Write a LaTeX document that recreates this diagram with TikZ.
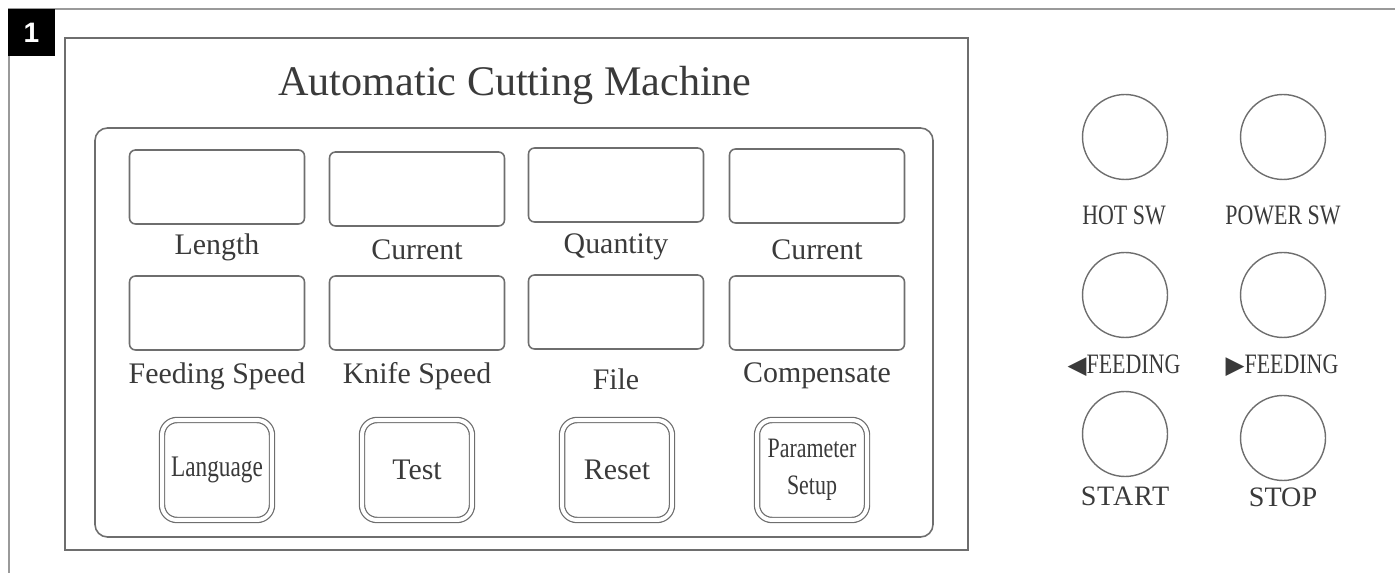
\documentclass[tikz,border=0pt]{standalone}
\usepackage{fontspec}
\setmainfont{Liberation Serif}
\newfontfamily\narrowserif[FakeStretch=0.78]{Liberation Serif}
\newfontfamily\symfont{DejaVu Sans}
\newfontfamily\tagfont{Liberation Sans}
\definecolor{ink}{HTML}{3A3A3A}
\definecolor{edge}{HTML}{6E6E6E}
\definecolor{frame}{HTML}{9A9A9A}
\tikzset{
  display/.style={draw=edge, line width=0.9pt, rounded corners=0.12cm,
    minimum width=3.5cm, minimum height=1.48cm},
  dlabel/.style={text=ink, font=\fontsize{17}{20}\selectfont},
  keybtn/.style={draw=edge, line width=0.7pt, double=white, double distance=0.08cm,
    rounded corners=0.3cm, minimum width=2.2cm, minimum height=2.0cm,
    text=ink, font=\fontsize{17}{20}\selectfont, align=center},
  roundbtn/.style={circle, draw=edge, line width=0.8pt, minimum size=1.7cm},
  swlabel/.style={text=ink, font=\narrowserif\fontsize{16}{18}\selectfont},
}
\begin{document}
\begin{tikzpicture}[x=0.02cm, y=-0.02cm]
  \useasboundingbox (0,0) rectangle (1395,573);
  % page frame and tag
  \draw[frame, line width=1.1pt] (1395,9) -- (9,9) -- (9,573);
  \node[fill=black, minimum size=0.94cm, inner sep=0pt] (tag) at (31.5,32.5) {};
  \node[text=white, font=\tagfont\bfseries\fontsize{16}{17}\selectfont] (tagnum) at (tag) {1};
  % panel
  \draw[edge, line width=1.4pt] (65,38) rectangle (968,550);
  \draw[edge, line width=0.9pt, rounded corners=0.25cm] (95,128) rectangle (933,537);
  \node[text=ink, font=\fontsize{24}{28}\selectfont] (title) at (515,85) {Automatic Cutting Machine};
  % display windows
  \node[display] (len) at (217,187) {};
  \node[display] (cur1) at (417,189) {};
  \node[display] (qty) at (616,185) {};
  \node[display] (cur2) at (817,186) {};
  \node[dlabel] (lenl) at (217,247) {Length};
  \node[dlabel] (cur1l) at (417,250) {Current};
  \node[dlabel] (qtyl) at (616,247) {Quantity};
  \node[dlabel] (cur2l) at (817,250) {Current};
  \node[display] (fspd) at (217,313) {};
  \node[display] (kspd) at (417,313) {};
  \node[display] (file) at (616,312) {};
  \node[display] (comp) at (817,313) {};
  \node[dlabel] (fspdl) at (217,376) {Feeding Speed};
  \node[dlabel] (kspdl) at (417,376) {Knife Speed};
  \node[dlabel] (filel) at (616,379) {File};
  \node[dlabel] (compl) at (817,376) {Compensate};
  % keys
  \node[keybtn] (lang) at (217,470) {\narrowserif Language};
  \node[keybtn] (test) at (417,470) {Test};
  \node[keybtn] (reset) at (617,470) {Reset};
  \node[keybtn, font=\narrowserif\fontsize{16}{21}\selectfont] (param) at (812,470) {Parameter\\Setup};
  % switches
  \node[roundbtn] (hot) at (1125,137) {};
  \node[roundbtn] (power) at (1283,137) {};
  \node[roundbtn] (fback) at (1125,295) {};
  \node[roundbtn] (ffwd) at (1283,295) {};
  \node[roundbtn] (start) at (1125,434) {};
  \node[roundbtn] (stop) at (1283,438) {};
  \node[swlabel] (hotl) at (1124,215) {HOT SW};
  \node[swlabel] (powerl) at (1283,215) {POWER SW};
  \node[swlabel] (fbackl) at (1124,366) {{\symfont\fontsize{14}{16}\selectfont ◀}FEEDING};
  \node[swlabel] (ffwdl) at (1282,366) {{\symfont\fontsize{14}{16}\selectfont ▶}FEEDING};
  \node[dlabel, font=\fontsize{16}{20}\selectfont\addfontfeature{LetterSpace=3}] (startl) at (1125,496) {START};
  \node[dlabel, font=\fontsize{16}{20}\selectfont] (stopl) at (1283,497) {STOP};
\end{tikzpicture}
\end{document}
